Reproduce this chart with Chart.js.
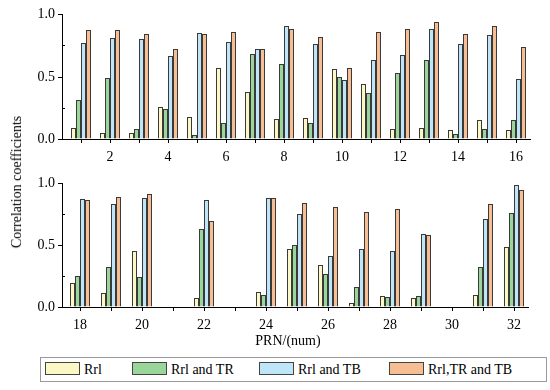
<!DOCTYPE html>
<html>
<head>
<meta charset="utf-8">
<script src="https://cdn.jsdelivr.net/npm/chart.js@4.4.1/dist/chart.umd.min.js"></script>
<style>
  body { margin: 0; background: #fff; }
  #wrap { position: relative; width: 550px; height: 390px; font-family: "Liberation Serif", "Times New Roman", serif; color: #000; }
  canvas { position: absolute; left: 0; }
  #ytitle { position: absolute; left: 17px; top: 182px; transform: translate(-50%, -50%) rotate(-90deg); font-size: 14px; white-space: nowrap; }
  #xtitle { position: absolute; left: 288px; top: 341px; transform: translate(-50%, -50%); font-size: 14px; white-space: nowrap; }
  #legend { position: absolute; left: 40px; top: 357px; width: 507px; height: 25px; border: 1px solid #999; box-sizing: border-box; font-size: 14px; }
  .item { position: absolute; top: 3px; height: 17px; line-height: 17px; white-space: nowrap; }
  .sw { display: inline-block; width: 33px; height: 11px; border: 1px solid #444; vertical-align: -1px; margin-right: 4px; }
</style>
</head>
<body>
<div id="wrap">
  <canvas id="top" width="550" height="175" style="top:0"></canvas>
  <canvas id="bottom" width="550" height="170" style="top:170px"></canvas>
  <div id="ytitle">Correlation coefficients</div>
  <div id="xtitle">PRN/(num)</div>
  <div id="legend"></div>
</div>
<script>
// series names and colours
const seriesNames = ["Rrl", "Rrl and TR", "Rrl and TB", "Rrl,TR and TB"];
const seriesColors = ["#FBF8C6", "#9AD59A", "#BEE5F8", "#F8BE93"];

// top panel, PRN 1..16
const prnTop = [1, 2, 3, 4, 5, 6, 7, 8, 9, 10, 11, 12, 13, 14, 15, 16];
const rrlTop = [0.09, 0.05, 0.05, 0.26, 0.18, 0.57, 0.38, 0.16, 0.17, 0.56, 0.44, 0.08, 0.09, 0.07, 0.15, 0.07];
const trTop  = [0.31, 0.49, 0.08, 0.24, 0.03, 0.13, 0.68, 0.60, 0.13, 0.50, 0.37, 0.53, 0.63, 0.04, 0.08, 0.15];
const tbTop  = [0.77, 0.81, 0.80, 0.66, 0.85, 0.78, 0.72, 0.90, 0.76, 0.47, 0.63, 0.67, 0.88, 0.76, 0.83, 0.48];
const allTop = [0.87, 0.87, 0.84, 0.72, 0.84, 0.86, 0.72, 0.88, 0.82, 0.57, 0.86, 0.88, 0.94, 0.84, 0.90, 0.74];

// bottom panel, PRN 18..32 (21, 23, 30 have no data)
const prnBot = [18, 19, 20, 21, 22, 23, 24, 25, 26, 27, 28, 29, 30, 31, 32];
const rrlBot = [0.19, 0.11, 0.45, null, 0.07, null, 0.12, 0.47, 0.34, 0.03, 0.09, 0.07, null, 0.10, 0.48];
const trBot  = [0.25, 0.32, 0.24, null, 0.63, null, 0.10, 0.50, 0.27, 0.16, 0.08, 0.09, null, 0.32, 0.76];
const tbBot  = [0.87, 0.83, 0.88, null, 0.86, null, 0.88, 0.75, 0.41, 0.47, 0.45, 0.59, null, 0.71, 0.98];
const allBot = [0.86, 0.89, 0.91, null, 0.69, null, 0.88, 0.84, 0.81, 0.77, 0.79, 0.58, null, 0.83, 0.94];

// y tick values with labels
const yTickLabels = [0, 0.5, 1];

const FONT = { family: "'Liberation Serif', 'Times New Roman', serif", size: 14 };

// short inward ticks at 0.25 / 0.75
const minorTicks = {
  id: "minorTicks",
  afterDraw(chart) {
    const y = chart.scales.y;
    const ctx = chart.ctx;
    ctx.save();
    ctx.strokeStyle = "#000";
    ctx.lineWidth = 1;
    [0.25, 0.75].forEach(v => {
      const py = Math.round(y.getPixelForValue(v)) + 0.5;
      ctx.beginPath();
      ctx.moveTo(chart.chartArea.left, py);
      ctx.lineTo(chart.chartArea.left + 3, py);
      ctx.stroke();
    });
    ctx.restore();
  }
};

// px: pixels per PRN, firstPx: pixel of the first PRN, left/right: plot edges
function makePanel(id, labels, values, opts) {
  const canvas = document.getElementById(id);
  const H = canvas.height;
  const W = canvas.width;
  const xMin = labels[0] - (opts.firstPx - opts.left) / opts.px;
  const xMax = xMin + (opts.right - opts.left) / opts.px;
  return new Chart(canvas, {
    type: "bar",
    data: {
      labels: labels,
      datasets: values.map((v, i) => ({
        label: seriesNames[i],
        data: v,
        backgroundColor: seriesColors[i],
        borderColor: "#3a3a3a",
        borderWidth: 1,
        inflateAmount: 0,
        categoryPercentage: 20 / opts.px,
        barPercentage: 1
      }))
    },
    options: {
      responsive: false,
      animation: false,
      layout: { padding: { left: 0, right: W - opts.right, top: opts.top, bottom: 0 } },
      plugins: { legend: { display: false }, tooltip: { enabled: false } },
      scales: {
        x: {
          type: "linear",
          offset: false,
          alignToPixels: true,
          min: xMin,
          max: xMax,
          afterFit: s => { s.height = H - opts.bottom; },
          afterBuildTicks: s => { s.ticks = labels.map(v => ({ value: v })); },
          ticks: {
            color: "#000",
            font: FONT,
            padding: 6,
            maxRotation: 0,
            autoSkip: false,
            callback: v => (v % 2 === 0 ? String(v) : "")
          },
          grid: { offset: false, drawOnChartArea: false, tickLength: 4, tickColor: "#000" },
          border: { color: "#000", width: 1 }
        },
        y: {
          min: 0,
          max: 1,
          alignToPixels: true,
          afterFit: s => { s.width = opts.left; },
          afterBuildTicks: s => { s.ticks = yTickLabels.map(v => ({ value: v })); },
          ticks: {
            color: "#000",
            font: FONT,
            padding: 3,
            callback: v => v.toFixed(1)
          },
          grid: { drawOnChartArea: false, tickLength: 4, tickColor: "#000" },
          border: { color: "#000", width: 1 }
        }
      }
    },
    plugins: [minorTicks]
  });
}

makePanel("top", prnTop, [rrlTop, trTop, tbTop, allTop],
  { px: 29, firstPx: 81, left: 62, right: 530, top: 14, bottom: 139 });
makePanel("bottom", prnBot, [rrlBot, trBot, tbBot, allBot],
  { px: 31, firstPx: 80, left: 62, right: 528, top: 13, bottom: 137 });

// legend
const legendX = [4, 91, 218, 348];
const legend = document.getElementById("legend");
seriesNames.forEach((name, i) => {
  const d = document.createElement("div");
  d.className = "item";
  d.style.left = legendX[i] + "px";
  d.innerHTML = `<span class="sw" style="background:${seriesColors[i]}"></span>${name}`;
  legend.appendChild(d);
});
</script>
</body>
</html>
